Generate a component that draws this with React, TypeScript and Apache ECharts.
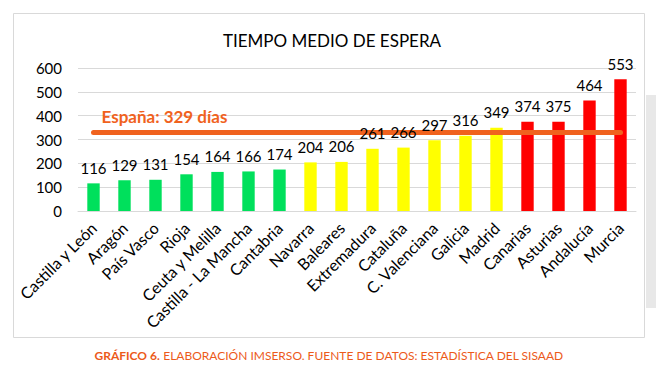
import React, { useEffect, useRef } from "react";
import * as echarts from "echarts";

const categories = [
  "Castilla y León", "Aragón", "País Vasco", "Rioja", "Ceuta y Melilla",
  "Castilla - La Mancha", "Cantabria", "Navarra", "Baleares", "Extremadura",
  "Cataluña", "C. Valenciana", "Galicia", "Madrid", "Canarias", "Asturias",
  "Andalucía", "Murcia",
];
const values = [116, 129, 131, 154, 164, 166, 174, 204, 206, 261, 266, 297, 316, 349, 374, 375, 464, 553];
const groups = [
  "low", "low", "low", "low", "low", "low", "low",
  "mid", "mid", "mid", "mid", "mid", "mid", "mid",
  "high", "high", "high", "high",
];
const spainAverage = 329;
const spainLabel = "España: 329 días";
const yTicks = [0, 100, 200, 300, 400, 500, 600];

const groupColors: Record<string, string> = { low: "#00E05C", mid: "#FFFF00", high: "#FF0000" };
const FONT = "Lato, 'Open Sans', sans-serif";
const ORANGE = "#F0621E";

export default function App() {
  const ref = useRef<HTMLDivElement>(null);
  useEffect(() => {
    document.body.style.margin = "0";
    const chart = echarts.init(ref.current!, null, { renderer: "svg" });
    chart.setOption({
      animation: false,
      backgroundColor: "#ffffff",
      textStyle: { fontFamily: FONT },
      title: {
        text: "TIEMPO MEDIO DE ESPERA",
        left: 327,
        textAlign: "center",
        top: 27,
        textStyle: { fontFamily: FONT, fontSize: 17, fontWeight: "normal", color: "#000" },
      },
      grid: { left: 78, right: 20, top: 68, bottom: 161, containLabel: false },
      xAxis: {
        type: "category",
        data: categories,
        axisLine: { show: true, lineStyle: { color: "#d9d9d9" } },
        axisTick: { show: false },
        axisLabel: { rotate: 45, fontSize: 16, color: "#000", margin: 14, interval: 0, fontFamily: FONT },
      },
      yAxis: {
        type: "value",
        min: yTicks[0],
        max: yTicks[yTicks.length - 1],
        interval: 100,
        axisLine: { show: false },
        axisTick: { show: false },
        splitLine: { lineStyle: { color: "#d9d9d9" } },
        axisLabel: { fontSize: 15, color: "#000", margin: 16, fontFamily: FONT },
      },
      series: [
        {
          type: "bar",
          barWidth: "40%",
          z: 1,
          data: values.map((v, i) => ({ value: v, itemStyle: { color: groupColors[groups[i]] } })),
        },
        {
          type: "line",
          data: [],
          z: 2,
          markLine: {
            silent: true,
            symbol: "none",
            z: 2,
            lineStyle: { color: ORANGE, width: 5, type: "solid", cap: "round" },
            label: {
              show: true,
              formatter: spainLabel,
              position: "insideStartTop",
              distance: [8, 8],
              color: ORANGE,
              fontWeight: "bold",
              fontSize: 17,
              fontFamily: FONT,
            },
            data: [[
              { coord: [categories[0], spainAverage] },
              { coord: [categories[categories.length - 1], spainAverage] },
            ]],
          },
        },
        {
          type: "bar",
          barWidth: "40%",
          barGap: "-100%",
          z: 6,
          itemStyle: { color: "transparent" },
          data: values,
          label: { show: true, position: "top", distance: 8, fontSize: 15, color: "#000", fontFamily: FONT },
        },
      ],
      graphic: [
        {
          type: "rect",
          shape: { x: 13.5, y: 13.5, width: 631, height: 324 },
          style: { fill: "none", stroke: "#d9d9d9", lineWidth: 1 },
          z: -1,
        },
        {
          type: "rect",
          shape: { x: 646, y: 95, width: 10, height: 213 },
          style: { fill: "#e8e8e8" },
          z: -1,
        },
        {
          type: "text",
          x: 329,
          y: 355,
          style: {
            text: "{b|GRÁFICO 6.} ELABORACIÓN IMSERSO. FUENTE DE DATOS: ESTADÍSTICA DEL SISAAD",
            align: "center",
            verticalAlign: "middle",
            fill: "#EC5A1A",
            fontSize: 12,
            fontFamily: FONT,
            rich: { b: { fontWeight: "bold", fontSize: 12, fill: "#EC5A1A", fontFamily: FONT } },
          },
        },
      ],
    });
    return () => chart.dispose();
  }, []);
  return <div ref={ref} style={{ width: 656, height: 372 }} />;
}
